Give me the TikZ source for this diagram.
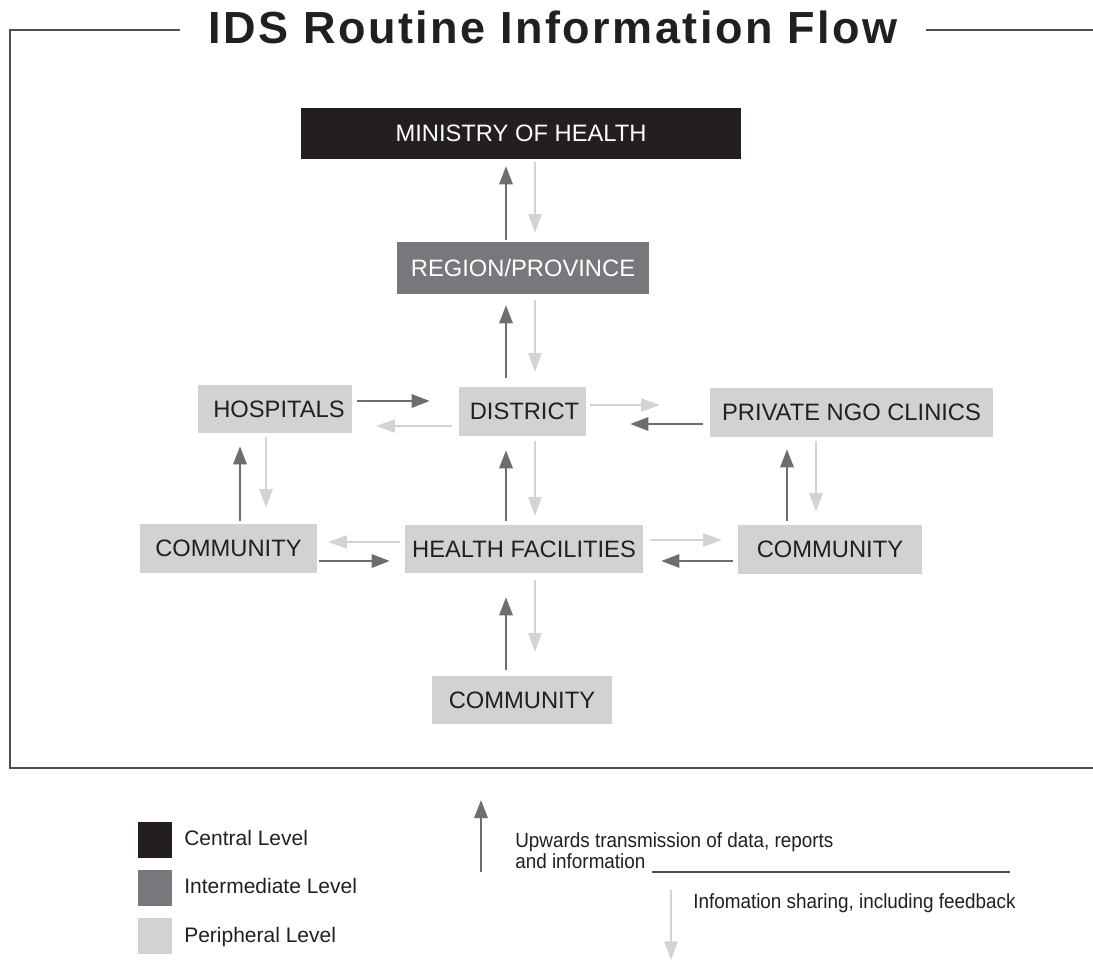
\documentclass[tikz,border=0pt]{standalone}
\usepackage{fontspec}
\setmainfont{Liberation Sans}
\newfontfamily\legfont{Liberation Sans}[FakeStretch=0.92]
\newfontfamily\titlefont{Liberation Sans}[LetterSpace=5.5]
\usetikzlibrary{arrows.meta,calc}
\definecolor{central}{HTML}{231F20}
\definecolor{intermed}{HTML}{77787B}
\definecolor{periph}{HTML}{D1D2D4}
\definecolor{darkarrow}{HTML}{6D6E71}
\definecolor{lightarrow}{HTML}{D1D3D4}
\definecolor{frameline}{HTML}{4D4D4F}
\tikzset{
  box/.style={inner sep=0pt, text=central, font=\fontsize{17.8pt}{20pt}\selectfont},
  cbox/.style={box, fill=central, text=white},
  ibox/.style={box, fill=intermed, text=white},
  pbox/.style={box, fill=periph},
  darr/.style={draw=darkarrow, line width=1.5pt, -{Triangle[length=13.5pt,width=10pt]}},
  larr/.style={draw=lightarrow, line width=1.1pt, -{Triangle[length=14pt,width=10pt]}},
  frame/.style={draw=frameline, line width=1pt},
  legsq/.style={inner sep=0pt, minimum width=25.5pt, minimum height=27pt},
  legtext/.style={anchor=base west, inner sep=0pt, text=central, font=\fontsize{15.75pt}{18pt}\selectfont},
  legtextn/.style={anchor=base west, inner sep=0pt, text=central, font=\legfont\fontsize{15.4pt}{18pt}\selectfont}
}
\begin{document}
\begin{tikzpicture}[x=0.75pt,y=-0.75pt]
\useasboundingbox (0,0) rectangle (1093,962);

% title and frame
\node[anchor=base, inner ysep=0pt, inner xsep=21pt, text=central,
      font=\titlefont\bfseries\fontsize{33.75pt}{40pt}\selectfont] (title) at (553,44) {IDS Routine Information Flow};
\coordinate (frameTL) at (10,30);
\coordinate (frameBL) at (10,768);
\coordinate (frameBR) at (1093,768);
\coordinate (frameTR) at (1093,30);
\draw[frame] (title.west |- frameTL) -- (frameTL) -- (frameBL) -- (frameBR);
\draw[frame] (title.east |- frameTR) -- (frameTR);

% nodes
\node[cbox, minimum width=330pt,    minimum height=38.25pt] (moh)  at (521,133.5) {MINISTRY OF HEALTH};
\node[ibox, minimum width=189pt,    minimum height=39pt]    (reg)  at (523,268)   {REGION/PROVINCE};
\node[pbox, minimum width=115.5pt,  minimum height=36pt]    (hosp) at (275,409)   {\hspace*{6pt}HOSPITALS};
\node[pbox, minimum width=95.25pt,  minimum height=36.75pt] (dist) at (522.5,411.5) {\hspace*{3pt}DISTRICT};
\node[pbox, minimum width=212.25pt, minimum height=36.75pt] (priv) at (851.5,412.5) {PRIVATE NGO CLINICS};
\node[pbox, minimum width=132.75pt, minimum height=36.75pt] (cl)   at (228.5,548.5) {COMMUNITY};
\node[pbox, minimum width=178.5pt,  minimum height=36pt]    (hf)   at (524,549)   {HEALTH FACILITIES};
\node[pbox, minimum width=138pt,    minimum height=36.75pt] (cr)   at (830,549.5) {COMMUNITY};
\node[pbox, minimum width=135pt,    minimum height=36pt]    (cb)   at (522,700)   {COMMUNITY};

% centre column
\draw[darr] ($(reg.north)+(-17,-2)$) -- ($(moh.south)+(-15,7)$);
\draw[larr] ($(moh.south)+(14,3)$) -- ($(reg.north)+(12,-9)$);
\draw[darr] ($(dist.north)+(-16.5,-9)$) -- ($(reg.south)+(-17,11)$);
\draw[larr] ($(reg.south)+(12,6)$) -- ($(dist.north)+(12.5,-15)$);
\draw[darr] ($(hf.north)+(-18,-4)$) -- ($(dist.south)+(-16.5,14)$);
\draw[larr] ($(dist.south)+(12.5,5)$) -- ($(hf.north)+(11,-9)$);
\draw[darr] ($(cb.north)+(-16,-6)$) -- ($(hf.south)+(-18,24)$);
\draw[larr] ($(hf.south)+(11,7)$) -- ($(cb.north)+(13,-24)$);

% left column
\draw[darr] ($(cl.north)+(11.5,-3)$) -- ($(hosp.south)+(-35,13)$);
\draw[larr] ($(hosp.south)+(-9,4)$) -- ($(cl.north)+(37.5,-16)$);

% right column
\draw[darr] ($(cr.north)+(-43,-4)$) -- ($(priv.south)+(-64.5,12)$);
\draw[larr] ($(priv.south)+(-35.5,4)$) -- ($(cr.north)+(-14,-13)$);

% horizontals
\draw[darr] ($(hosp.east)+(5,-8)$) -- ($(dist.west)+(-29,-10.5)$);
\draw[larr] ($(dist.west)+(-7,14.5)$) -- ($(hosp.east)+(24,17)$);
\draw[larr] ($(dist.east)+(4,-6.5)$) -- ($(priv.west)+(-50,-7.5)$);
\draw[darr] ($(priv.west)+(-7,11.5)$) -- ($(dist.east)+(44,12.5)$);
\draw[larr] ($(hf.west)+(-5,-7)$) -- ($(cl.east)+(11,-6.5)$);
\draw[darr] ($(cl.east)+(2,12.5)$) -- ($(hf.west)+(-15,12)$);
\draw[larr] ($(hf.east)+(7,-9)$) -- ($(cr.west)+(-16,-9.5)$);
\draw[darr] ($(cr.west)+(-5,11.5)$) -- ($(hf.east)+(18,12)$);

% legend
\node[legsq, fill=central]  (lsq1) at (155,840) {};
\node[legsq, fill=intermed] (lsq2) at (155,887.5) {};
\node[legsq, fill=periph]   (lsq3) at (155,936) {};
\node[legtext] (lt1) at (184,845) {Central Level};
\node[legtext] (lt2) at (184,893) {Intermediate Level};
\node[legtext] (lt3) at (184,942) {Peripheral Level};

\coordinate (upBase) at (481,872);
\coordinate (upTip) at (481,800);
\draw[darr] (upBase) -- (upTip);
\node[legtextn] (lu1) at (515,847) {Upwards transmission of data, reports};
\node[legtextn] (lu2) at (515,868) {and information};
\coordinate (lineStart) at (652,872);
\coordinate (lineEnd) at (1010,872);
\draw[frame] (lineStart) -- (lineEnd);

\coordinate (dnTop) at (671,890);
\coordinate (dnTip) at (671,960);
\draw[larr] (dnTop) -- (dnTip);
\node[legtextn] (ld) at (693,908) {Infomation sharing, including feedback};
\end{tikzpicture}
\end{document}
